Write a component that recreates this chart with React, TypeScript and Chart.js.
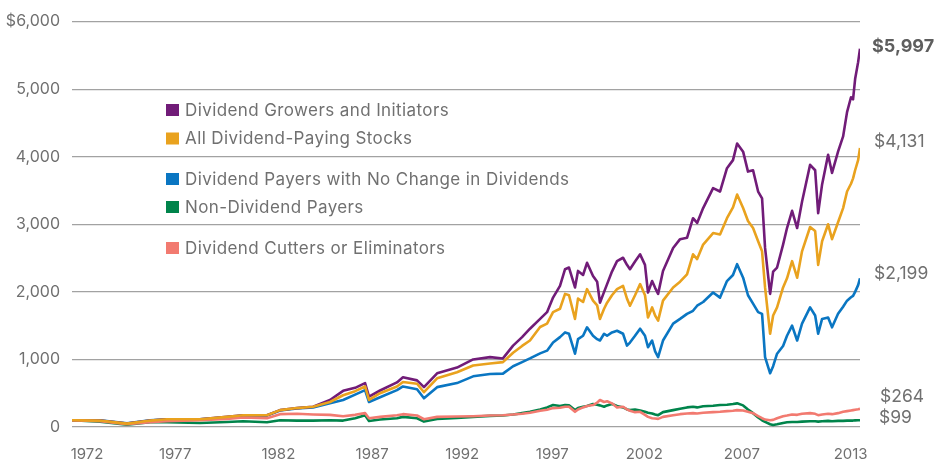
import React, { useEffect, useRef } from 'react';
import { Chart, registerables } from 'chart.js';

Chart.register(...registerables);

// Decimal years (x values shared by all series)
const years = [
  1972.0, 1973.49, 1974.93, 1976.16, 1977.06, 1978.82, 1980.26, 1981.12, 1982.39, 1983.09,
  1983.99, 1984.85, 1985.75, 1986.45, 1987.09, 1987.62, 1987.83, 1988.42, 1989.32, 1989.64,
  1990.39, 1990.76, 1991.46, 1992.52, 1993.38, 1994.28, 1994.97, 1995.51, 1995.99, 1996.41,
  1996.95, 1997.32, 1997.64, 1998.01, 1998.28, 1998.49, 1998.81, 1998.97, 1999.24, 1999.45,
  1999.77, 1999.99, 2000.14, 2000.36, 2000.52, 2000.78, 2001.05, 2001.37, 2001.58, 2001.74,
  2002.01, 2002.28, 2002.54, 2002.7, 2002.92, 2003.08, 2003.24, 2003.5, 2004.04, 2004.41,
  2004.78, 2005.1, 2005.32, 2005.64, 2006.17, 2006.54, 2006.91, 2007.23, 2007.45, 2007.77,
  2008.03, 2008.3, 2008.57, 2008.78, 2008.94, 2009.21, 2009.37, 2009.58, 2009.9, 2010.11,
  2010.38, 2010.65, 2010.91, 2011.34, 2011.61, 2011.77, 2011.98, 2012.3, 2012.51, 2012.83,
  2013.1, 2013.31, 2013.52, 2013.63, 2013.74, 2013.9, 2014.0,
];

const growers = [
  100, 95, 50, 95, 115, 115, 150, 175, 175, 250,
  280, 300, 400, 535, 580, 650, 450, 540, 660, 735,
  690, 590, 795, 880, 1000, 1034, 1015, 1205, 1330, 1455,
  1600, 1700, 1915, 2090, 2335, 2360, 2065, 2310, 2250, 2430,
  2235, 2150, 1840, 2000, 2115, 2300, 2455, 2505, 2400, 2335,
  2450, 2555, 2400, 1990, 2160, 2060, 1970, 2310, 2650, 2780,
  2800, 3090, 3020, 3240, 3535, 3485, 3830, 3950, 4195, 4075,
  3780, 3800, 3485, 3385, 2650, 1970, 2300, 2360, 2700, 2945,
  3200, 2945, 3335, 3880, 3800, 3165, 3590, 4030, 3760, 4075,
  4300, 4660, 4880, 4850, 5150, 5400, 5600,
];

const allPayers = [
  100, 95, 50, 95, 115, 115, 150, 175, 175, 250,
  280, 300, 370, 470, 530, 600, 400, 500, 600, 665,
  640, 515, 720, 810, 910, 940, 960, 1100, 1200, 1280,
  1480, 1530, 1700, 1750, 1970, 1950, 1600, 1900, 1850, 2040,
  1870, 1800, 1600, 1750, 1840, 1950, 2040, 2090, 1900, 1795,
  1950, 2115, 1950, 1620, 1770, 1650, 1575, 1870, 2065, 2150,
  2260, 2555, 2485, 2700, 2870, 2850, 3090, 3250, 3440, 3240,
  3050, 2945, 2750, 2600, 2065, 1380, 1650, 1770, 2065, 2200,
  2455, 2210, 2600, 2960, 2900, 2400, 2750, 3000, 2780, 3030,
  3240, 3485, 3600, 3680, 3800, 3950, 4130,
];

const noChange = [
  100, 100, 55, 100, 115, 115, 145, 170, 170, 245,
  275, 290, 350, 400, 480, 545, 370, 440, 545, 600,
  560, 425, 590, 650, 750, 785, 790, 900, 960, 1015,
  1090, 1130, 1250, 1330, 1400, 1380, 1085, 1300, 1350, 1475,
  1350, 1300, 1280, 1380, 1350, 1400, 1425, 1380, 1205, 1250,
  1350, 1455, 1350, 1180, 1280, 1120, 1034, 1280, 1530, 1600,
  1675, 1720, 1795, 1850, 1990, 1915, 2160, 2250, 2410, 2210,
  1950, 1825, 1700, 1675, 1034, 795, 900, 1085, 1200, 1350,
  1500, 1280, 1530, 1770, 1650, 1380, 1600, 1620, 1475, 1675,
  1780, 1870, 1920, 1940, 2000, 2100, 2200,
];

const nonPayers = [
  100, 80, 35, 70, 70, 60, 75, 85, 70, 100,
  95, 95, 100, 95, 130, 175, 90, 110, 130, 150,
  130, 80, 120, 135, 150, 165, 170, 185, 205, 225,
  260, 290, 325, 310, 325, 320, 250, 280, 300, 310,
  340, 330, 320, 300, 320, 340, 310, 290, 260, 250,
  260, 245, 225, 210, 200, 185, 175, 220, 250, 270,
  290, 300, 290, 306, 315, 325, 330, 340, 350, 320,
  260, 205, 140, 100, 75, 40, 30, 40, 60, 70,
  75, 75, 80, 85, 85, 80, 85, 90, 85, 90,
  90, 95, 95, 95, 98, 99, 100,
];

const cutters = [
  100, 85, 40, 70, 85, 100, 120, 140, 130, 190,
  195, 185, 180, 160, 180, 205, 130, 150, 175, 190,
  170, 115, 150, 155, 160, 170, 175, 185, 195, 210,
  240, 255, 280, 285, 300, 300, 225, 260, 290, 310,
  325, 360, 400, 370, 380, 350, 290, 300, 260, 240,
  220, 225, 180, 150, 130, 125, 120, 150, 175, 190,
  200, 205, 200, 210, 220, 225, 235, 240, 250, 245,
  225, 205, 160, 130, 110, 100, 105, 130, 160, 170,
  185, 180, 195, 205, 195, 175, 185, 195, 190, 205,
  225, 235, 245, 250, 255, 262, 268,
];

const seriesNames = [
  'Dividend Growers and Initiators',
  'All Dividend-Paying Stocks',
  'Dividend Payers with No Change in Dividends',
  'Non-Dividend Payers',
  'Dividend Cutters or Eliminators',
];

const endLabels = ['$5,997', '$4,131', '$2,199', '$99', '$264'];

const tickYears = [1972.8, 1977.5, 1983.0, 1988.0, 1992.8, 1997.6, 2002.5, 2007.7, 2013.5];
const tickLabels = ['1972', '1977', '1982', '1987', '1992', '1997', '2002', '2007', '2013'];

// ---- styles / layout ----
const COLORS = ['#711c78', '#e9a21e', '#0a76c2', '#00844b', '#f27a70'];
const DRAW_ORDER = [2, 0, 3, 4, 1];
const FONT = 'Inter, "Liberation Sans", Arial, sans-serif';
const TEXT = '#707070';
const LEGEND_X = 166;
const LEGEND_ROWS = [110, 138.5, 179, 207, 248];
const END_LABEL = [
  { dx: 12, dy: -2, bold: true, size: 18 },
  { dx: 14, dy: -6, bold: false, size: 17.5 },
  { dx: 14, dy: -5, bold: false, size: 17.5 },
  { dx: 19, dy: -3, bold: false, size: 17.5 },
  { dx: 20, dy: -12, bold: false, size: 17.5 },
];

const overlayPlugin = {
  id: 'overlay',
  afterDatasetsDraw(chart: any) {
    const ctx = chart.ctx;
    const area = chart.chartArea;
    const yScale = chart.scales.y;
    ctx.save();
    ctx.textBaseline = 'middle';
    ctx.textAlign = 'left';
    // legend
    ctx.font = `17px ${FONT}`;
    try { (ctx as any).letterSpacing = '0.4px'; } catch (e) { /* ignore */ }
    seriesNames.forEach((name, i) => {
      const y = LEGEND_ROWS[i];
      ctx.fillStyle = COLORS[i];
      ctx.fillRect(LEGEND_X, y - 6, 13, 12);
      ctx.fillStyle = TEXT;
      ctx.fillText(name, LEGEND_X + 19, y + 0.5);
    });
    try { (ctx as any).letterSpacing = '0px'; } catch (e) { /* ignore */ }
    // end labels
    const lastValues = [growers, allPayers, noChange, nonPayers, cutters].map((s) => s[s.length - 1]);
    endLabels.forEach((label, i) => {
      const st = END_LABEL[i];
      ctx.font = `${st.bold ? 'bold ' : ''}${st.size}px ${FONT}`;
      ctx.fillStyle = st.bold ? '#5e5e5e' : TEXT;
      const y = yScale.getPixelForValue(lastValues[i]) + st.dy;
      ctx.fillText(label, area.right + st.dx, y);
    });
    ctx.restore();
  },
};

export default function App() {
  const ref = useRef<HTMLCanvasElement>(null);

  useEffect(() => {
    if (!ref.current) return;
    const all = [growers, allPayers, noChange, nonPayers, cutters];
    const chart = new Chart(ref.current, {
      type: 'line',
      data: {
        datasets: all.map((s, i) => ({
          label: seriesNames[i],
          data: s.map((v, j) => ({ x: years[j], y: v })),
          borderColor: COLORS[i],
          backgroundColor: COLORS[i],
          borderWidth: 2.6,
          pointRadius: 0,
          tension: 0,
          borderJoinStyle: 'round' as const,
          order: DRAW_ORDER[i],
        })),
      },
      options: {
        responsive: false,
        animation: false,
        devicePixelRatio: 1,
        layout: { padding: { top: 19, right: 80, left: 0, bottom: 0 } },
        plugins: {
          legend: { display: false },
          tooltip: { enabled: false },
        },
        scales: {
          x: {
            type: 'linear',
            min: 1972,
            max: 2014,
            grid: { display: false },
            border: { display: false },
            afterBuildTicks: (scale: any) => {
              scale.ticks = tickYears.map((v) => ({ value: v }));
            },
            afterFit: (scale: any) => {
              scale.height = 36;
            },
            ticks: {
              autoSkip: false,
              maxRotation: 0,
              padding: 10,
              color: TEXT,
              font: { family: FONT, size: 15 },
              callback: (_v: any, idx: number) => tickLabels[idx],
            },
          },
          y: {
            min: 0,
            max: 6000,
            grid: { color: '#a2a2a2', lineWidth: 1.3, drawTicks: false },
            border: { display: false },
            afterFit: (scale: any) => {
              scale.width = 72;
            },
            ticks: {
              stepSize: 1000,
              padding: 12,
              color: TEXT,
              font: { family: FONT, size: 16 },
              callback: (v: any) => {
                const n = Number(v);
                const s = n.toLocaleString('en-US');
                return n === 6000 ? '$' + s : s;
              },
            },
          },
        },
      },
      plugins: [overlayPlugin],
    });
    return () => chart.destroy();
  }, []);

  return (
    <div style={{ position: 'absolute', left: 0, top: 0, width: 940, height: 463, background: '#fff' }}>
      <canvas ref={ref} width={940} height={463} style={{ display: 'block' }} />
    </div>
  );
}
